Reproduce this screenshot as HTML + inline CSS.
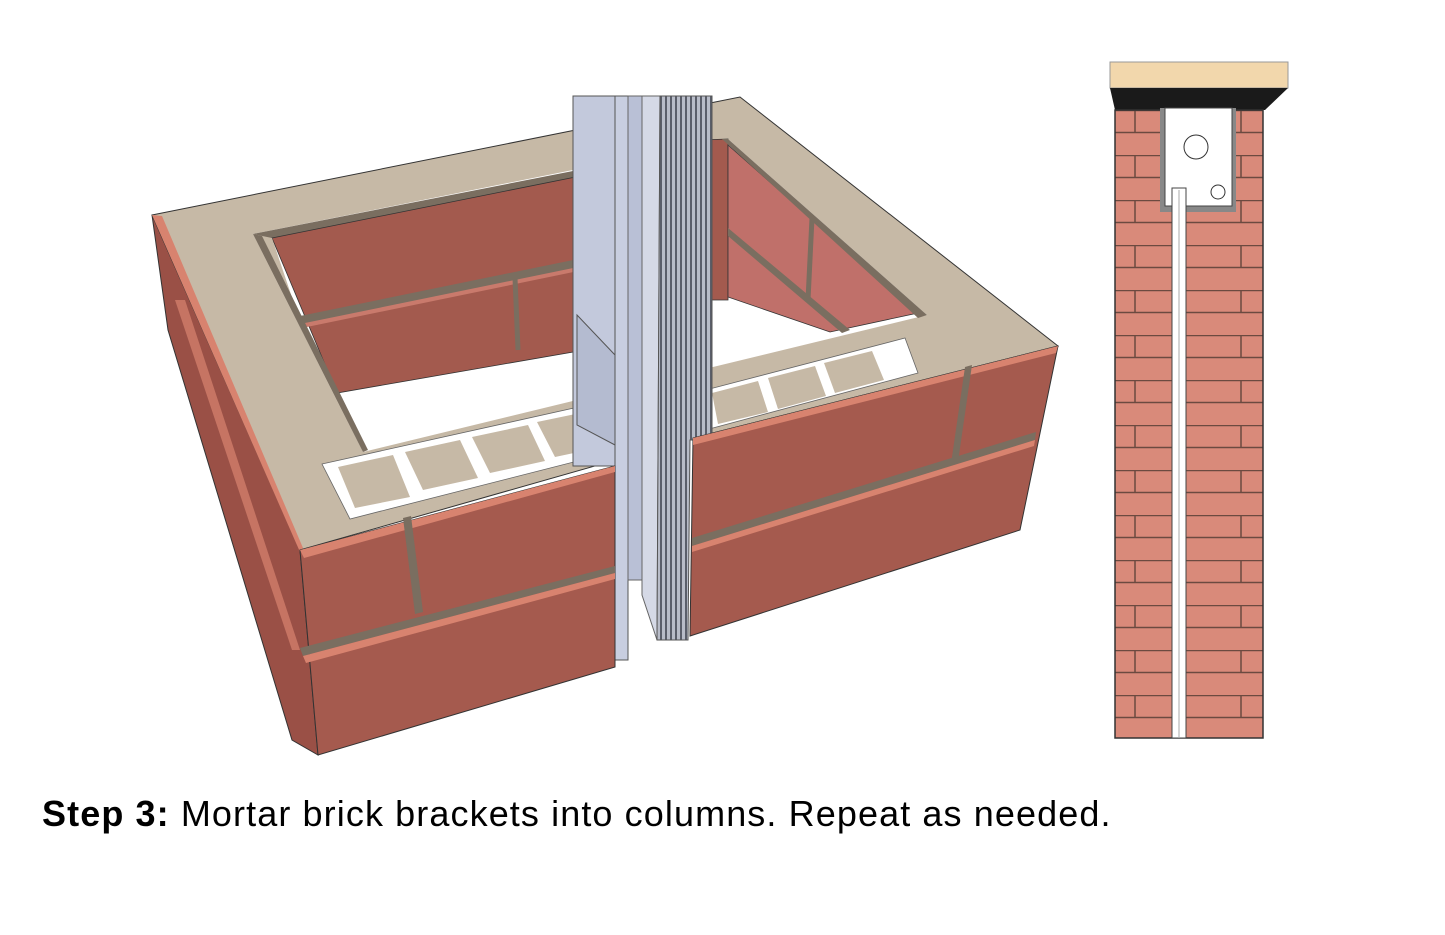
<!DOCTYPE html>
<html><head><meta charset="utf-8"><style>
html,body{margin:0;padding:0;background:#fff;}
#c{position:relative;width:1445px;height:935px;overflow:hidden;}
.cap{position:absolute;left:42px;top:796px;font-family:"Liberation Sans",sans-serif;font-size:36px;line-height:36px;letter-spacing:1.1px;color:#000;white-space:nowrap;}
</style></head><body><div id="c">
<svg width="1445" height="935" viewBox="0 0 1445 935" style="position:absolute;left:0;top:0">
<defs>
<pattern id="col" patternUnits="userSpaceOnUse" x="1115" y="110" width="150" height="45">
<rect width="150" height="45" fill="#d98a7a"/>
<line x1="0" y1="0.5" x2="150" y2="0.5" stroke="#6b4a40" stroke-width="1.5"/>
<line x1="0" y1="22.5" x2="150" y2="22.5" stroke="#6b4a40" stroke-width="1.5"/>
<line x1="20" y1="0" x2="20" y2="22.5" stroke="#6b4a40" stroke-width="1.5"/>
<line x1="126" y1="0" x2="126" y2="22.5" stroke="#6b4a40" stroke-width="1.5"/>
</pattern>
<pattern id="mesh" patternUnits="userSpaceOnUse" width="5" height="6">
<rect width="5" height="6" fill="#b8bcc8"/>
<rect width="2" height="6" fill="#5a5e6a"/>
</pattern>
</defs>
<!-- cap -->
<polygon points="152,215 740,97 1058,346 693,438 300,550" fill="#c6b9a6" stroke="#333" stroke-width="1"/>
<!-- inner opening left -->
<polygon points="253,234 728,139 927,315 363,452" fill="#fff"/>
<polygon points="253,234 700,146 700,160 268,244" fill="#7a6e60"/>
<polygon points="272,238 700,152 700,330 337,393" fill="#a35a4e" stroke="#333" stroke-width="0.8"/>
<polygon points="300,316 700,234 700,242 303,324" fill="#7a6e60"/>
<polygon points="300,324 700,242 700,246 302,328" fill="#c97a6c"/>
<line x1="515" y1="278" x2="518" y2="350" stroke="#7a6e60" stroke-width="5"/>
<polygon points="253,234 272,238 303,330 337,393 363,452" fill="#c6b9a6"/>
<polygon points="253,234 262,236 368,450 363,452" fill="#7a6e60"/>
<!-- inner right wall -->
<polygon points="700,140 728,139 728,300 700,300" fill="#a35a4e" stroke="#333" stroke-width="0.8"/>
<polygon points="728,145 918,313 830,332 728,297" fill="#c0706a" stroke="#333" stroke-width="0.8"/>
<polygon points="728,228 850,330 842,333 728,236" fill="#7a6e60"/>
<line x1="812" y1="218" x2="808" y2="300" stroke="#7a6e60" stroke-width="5"/>
<polygon points="722,139 728,139 927,315 918,318" fill="#7a6e60"/>
<!-- ladders -->
<polygon points="322,464 610,400 613,452 350,519" fill="#fff" stroke="#666" stroke-width="0.8"/>
<polygon points="338,467 393,455 410,497 355,508" fill="#c6b9a6"/>
<polygon points="405,452 460,440 478,478 423,490" fill="#c6b9a6"/>
<polygon points="472,437 528,425 545,461 490,473" fill="#c6b9a6"/>
<polygon points="537,422 590,411 607,446 555,457" fill="#c6b9a6"/>
<polygon points="698,392 905,338 918,373 698,432" fill="#fff" stroke="#666" stroke-width="0.8"/>
<polygon points="712,393 758,381 768,412 718,424" fill="#c6b9a6"/>
<polygon points="768,378 815,366 826,396 778,409" fill="#c6b9a6"/>
<polygon points="824,363 872,351 884,380 835,393" fill="#c6b9a6"/>
<!-- post -->
<rect x="573" y="96" width="42" height="370" fill="#c3c9dc" stroke="#555" stroke-width="1"/>
<polygon points="577,315 615,355 615,445 577,425" fill="#b4bbd0" stroke="#555" stroke-width="1"/>
<rect x="615" y="96" width="13" height="564" fill="#c8cee0" stroke="#555" stroke-width="1"/>
<rect x="628" y="96" width="14" height="484" fill="#b9c0d6" stroke="#666" stroke-width="1"/>
<polygon points="642,96 660,96 657,640 642,595" fill="#d5d9e6" stroke="#666" stroke-width="1"/>
<polygon points="660,96 712,96 712,440 690,440 688,640 657,640" fill="url(#mesh)" stroke="#555" stroke-width="1"/>
<!-- left side face -->
<polygon points="152,215 300,550 318,755 292,740 168,330" fill="#9a5046" stroke="#333" stroke-width="1"/>
<polygon points="152,215 162,216 303,548 300,552" fill="#d8836f"/>
<polygon points="175,300 185,300 300,650 292,650" fill="#d8836f" opacity="0.7"/>
<!-- front face left -->
<polygon points="300,550 615,466 615,667 318,755" fill="#a55a4e" stroke="#333" stroke-width="1"/>
<polygon points="300,550 615,466 615,472 304,558" fill="#d8836f"/>
<polygon points="300,648 615,566 615,573 303,656" fill="#7a6e60"/>
<polygon points="303,656 615,573 615,579 306,663" fill="#d8836f"/>
<polygon points="403,518 411,516 423,612 415,614" fill="#7a6e60"/>
<!-- front face right -->
<polygon points="693,438 1058,346 1020,530 690,636" fill="#a55a4e" stroke="#333" stroke-width="1"/>
<polygon points="693,438 1058,346 1056,353 693,445" fill="#d8836f"/>
<polygon points="692,538 1036,432 1035,440 692,546" fill="#7a6e60"/>
<polygon points="692,546 1035,440 1034,446 692,552" fill="#d8836f"/>
<polygon points="965,367 972,365 958,462 951,464" fill="#7a6e60"/>
<!-- right column -->
<polygon points="1110,62 1288,62 1288,88 1110,88" fill="#f2d7ac" stroke="#999" stroke-width="1"/>
<polygon points="1110,88 1288,88 1265,110 1115,110" fill="#1a1a1a"/>
<rect x="1115" y="110" width="148" height="628" fill="url(#col)" stroke="#333" stroke-width="1.5"/>
<rect x="1160" y="108" width="76" height="104" fill="#888"/>
<rect x="1165" y="108" width="67" height="98" fill="#fff" stroke="#444"/>
<circle cx="1196" cy="147" r="12" fill="#fff" stroke="#333"/>
<circle cx="1218" cy="192" r="7" fill="#fff" stroke="#333"/>
<rect x="1172" y="188" width="14" height="550" fill="#fff" stroke="#444"/>
<line x1="1179" y1="190" x2="1179" y2="738" stroke="#aaa"/>
</svg>
<div class="cap"><b>Step 3:</b> Mortar brick brackets into columns. Repeat as needed.</div>
</div></body></html>
